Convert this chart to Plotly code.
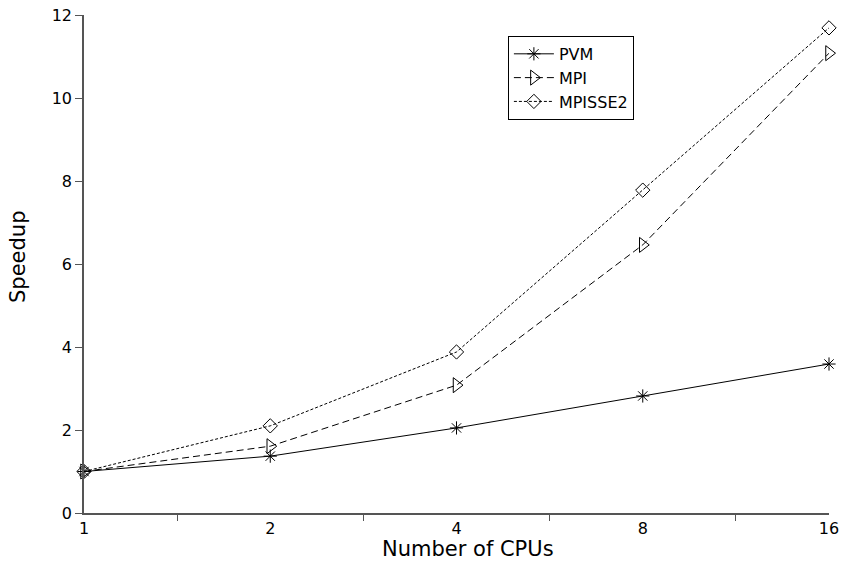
import plotly.graph_objects as go

cpus = ["1", "2", "4", "8", "16"]
xpos = [0, 1, 2, 3, 4]
pvm = [1.0, 1.37, 2.05, 2.82, 3.59]
mpi = [1.0, 1.61, 3.08, 6.46, 11.08]
mpisse2 = [1.0, 2.10, 3.88, 7.78, 11.69]
yticks = [0, 2, 4, 6, 8, 10, 12]

fig = go.Figure()
fig.add_trace(go.Scatter(x=xpos, y=pvm, name="PVM", mode="lines+markers",
                         line=dict(color="black", width=1),
                         marker=dict(symbol="asterisk-open", size=11, color="black", line=dict(width=1, color="black")),
                         cliponaxis=False))
fig.add_trace(go.Scatter(x=xpos, y=mpi, name="MPI", mode="lines+markers",
                         line=dict(color="black", width=1, dash="7px,4px"),
                         marker=dict(symbol="triangle-right-open", size=13, color="black", line=dict(width=1, color="black")),
                         cliponaxis=False))
fig.add_trace(go.Scatter(x=xpos, y=mpisse2, name="MPISSE2", mode="lines+markers",
                         line=dict(color="black", width=1, dash="3px,2px"),
                         marker=dict(symbol="diamond-open", size=11, color="black", line=dict(width=1, color="black")),
                         cliponaxis=False))
# invisible trace on secondary axis to hold minor ticks
fig.add_trace(go.Scatter(x=xpos, y=pvm, xaxis="x2", showlegend=False, mode="none", hoverinfo="skip"))

fig.update_layout(
    width=842, height=562,
    margin=dict(l=84, r=13, t=15, b=49, autoexpand=False),
    paper_bgcolor="white", plot_bgcolor="white",
    font=dict(family="DejaVu Sans", size=16, color="black"),
    showlegend=True,
    legend=dict(x=0.569, y=0.958, xanchor="left", yanchor="top",
                bordercolor="black", borderwidth=1, bgcolor="white",
                font=dict(size=16), tracegroupgap=0, itemwidth=40),
    xaxis=dict(range=[0, 4], tickvals=xpos, ticktext=cpus, ticks="", showgrid=False, automargin=False,
               zeroline=False, showline=True, linecolor="#555", linewidth=1.5),
    xaxis2=dict(range=[0, 4], overlaying="x", side="bottom", tickvals=[0.5, 1.5, 2.5, 3.5],
                ticktext=["", "", "", ""], ticks="outside", ticklen=7, tickcolor="#555", automargin=False,
                showgrid=False, zeroline=False, showline=False),
    yaxis=dict(range=[0, 12], tickvals=yticks, ticks="outside", ticklen=7, tickcolor="#555", automargin=False,
               showgrid=False, zeroline=False, showline=True, linecolor="#555", linewidth=1.5),
    annotations=[
        dict(text="Number of CPUs", xref="paper", yref="paper",
             x=(468 - 84) / 745, y=-(549 - 513) / 498, xanchor="center", yanchor="middle",
             showarrow=False, font=dict(size=21)),
        dict(text="Speedup", xref="paper", yref="paper", textangle=-90,
             x=-(84 - 18) / 745, y=(513 - 257) / 498, xanchor="center", yanchor="middle",
             showarrow=False, font=dict(size=21)),
    ],
)

fig.write_html("out.html", config={"displayModeBar": False},
               post_script="document.body.style.margin='0';")
